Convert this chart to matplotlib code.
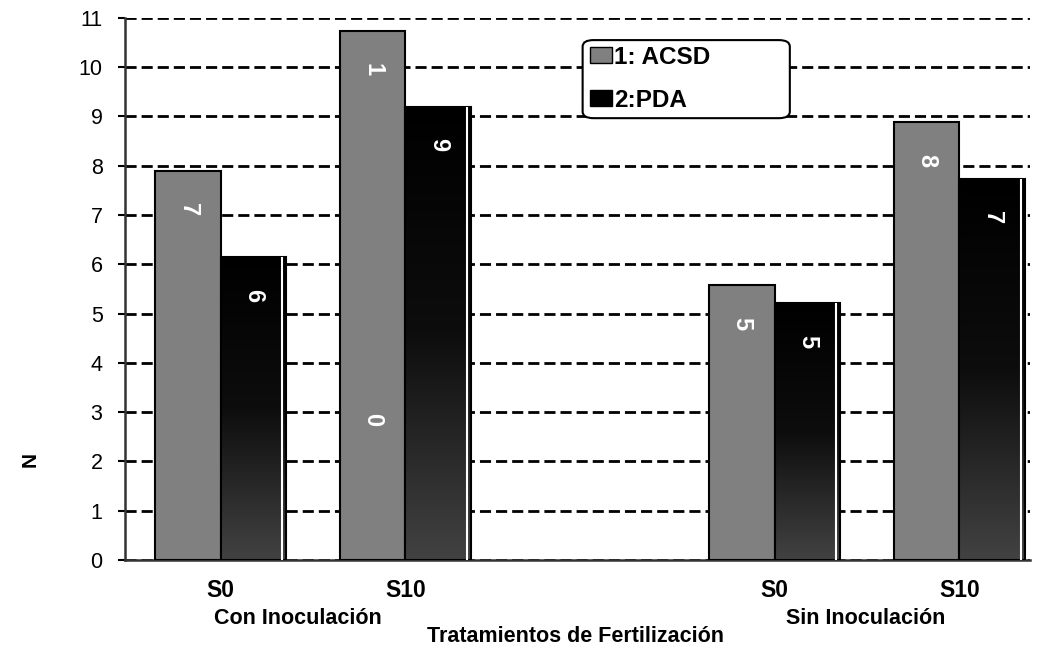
import numpy as np
import matplotlib
matplotlib.use("Agg")
import matplotlib.pyplot as plt
from matplotlib.colors import LinearSegmentedColormap
from matplotlib.patches import Patch, FancyBboxPatch

plt.rcParams['font.family'] = ['Liberation Sans', 'DejaVu Sans']

# datos
categories = ["S0", "S10", "S0", "S10"]
groups = ["Con Inoculación", "Sin Inoculación"]
acsd = [7.9, 10.73, 5.58, 8.88]
pda = [6.15, 9.2, 5.21, 7.73]
acsd_labels = ["7", "1", "5", "8"]
pda_labels = ["6", "9", "5", "7"]
series_names = ["1: ACSD", "2:PDA"]
yticks = list(range(0, 12))

pos = np.array([0, 1, 3, 4])
group_pos = [0.42, 3.49]
w = 0.355

fig = plt.figure(figsize=(10.4, 6.5), dpi=100)
ax = fig.add_axes([0.120, 0.1385, 0.870, 0.834])

# barras grises
ax.bar(pos - w / 2, acsd, width=w, color="#808080", edgecolor="black",
       linewidth=1.5, zorder=3)

# barras negras con degradado (negro arriba, gris oscuro abajo)
cmap = LinearSegmentedColormap.from_list("neg", ["#000000", "#0d0d0d", "#424242"])
grad = np.linspace(0, 1, 256).reshape(-1, 1)
for x, v in zip(pos, pda):
    ax.imshow(grad, extent=[x, x + w, 0, v], cmap=cmap, aspect="auto",
              zorder=3, origin="upper")
ax.bar(pos + w / 2, pda, width=w, facecolor="none", edgecolor="black",
       linewidth=1.5, zorder=4)
ax.vlines(pos + w - 0.022, 0, pda, color="white", linewidth=1.5, zorder=4)

# etiquetas de las barras
for x, v, t in zip(pos - w / 2, acsd, acsd_labels):
    ax.text(x, v - 0.78, t, color="white", fontsize=17, fontweight="bold",
            rotation=-90, ha="center", va="center", zorder=5)
for x, v, t in zip(pos + w / 2, pda, pda_labels):
    ax.text(x, v - 0.78, t, color="white", fontsize=17, fontweight="bold",
            rotation=-90, ha="center", va="center", zorder=5)
ax.text(pos[1] - w / 2, 2.85, "0", color="white", fontsize=17,
        fontweight="bold", rotation=-90, ha="center", va="center", zorder=5)

ax.set_xlim(-0.52, 4.38)
ax.set_ylim(0, 11)
ax.set_yticks(yticks)
ax.tick_params(axis="y", labelsize=15.5, length=5, width=1.5, pad=11,
               direction="out")
ax.grid(axis="y", color="black", linestyle=(0, (4, 1.8)), linewidth=2, zorder=1)
ax.set_axisbelow(True)

ax.set_xticks(pos)
ax.set_xticklabels(categories, fontsize=16.5, fontweight="bold")
ax.tick_params(axis="x", length=0, pad=14)

for s in ["top", "right"]:
    ax.spines[s].set_visible(False)
ax.spines["left"].set_linewidth(1.8)
ax.spines["left"].set_color("#333333")
ax.spines["bottom"].set_linewidth(1.8)
ax.spines["bottom"].set_color("#333333")

# textos de grupo y ejes
for gx, g in zip(group_pos, groups):
    ax.text(gx, -0.088, g, transform=ax.get_xaxis_transform(), ha="center",
            va="top", fontsize=15.5, fontweight="bold")
fig.text(0.553, 0.02, "Tratamientos de Fertilización", ha="center",
         va="center", fontsize=15.5, fontweight="bold")
fig.text(0.029, 0.293, "N", rotation=90, ha="center", va="center",
         fontsize=15, fontweight="bold")

# leyenda (marco dibujado aparte para tener el ancho del original)
box = FancyBboxPatch((0.506, 0.815), 0.229, 0.144, transform=ax.transAxes,
                     boxstyle="round,pad=0,rounding_size=0.012",
                     facecolor="white", edgecolor="black", linewidth=1.5,
                     zorder=6, clip_on=False)
ax.add_patch(box)
handles = [Patch(facecolor="#808080", edgecolor="black"),
           Patch(facecolor="#000000", edgecolor="black")]
leg = ax.legend(handles, series_names, loc="upper left",
                bbox_to_anchor=(0.506, 0.962),
                prop={"weight": "bold", "size": 17.5}, frameon=False,
                handlelength=0.9, handleheight=0.6, handletextpad=0.1,
                borderpad=0.3, labelspacing=0.82, borderaxespad=0)
leg.set_zorder(7)

fig.savefig("out.png", dpi=100)
